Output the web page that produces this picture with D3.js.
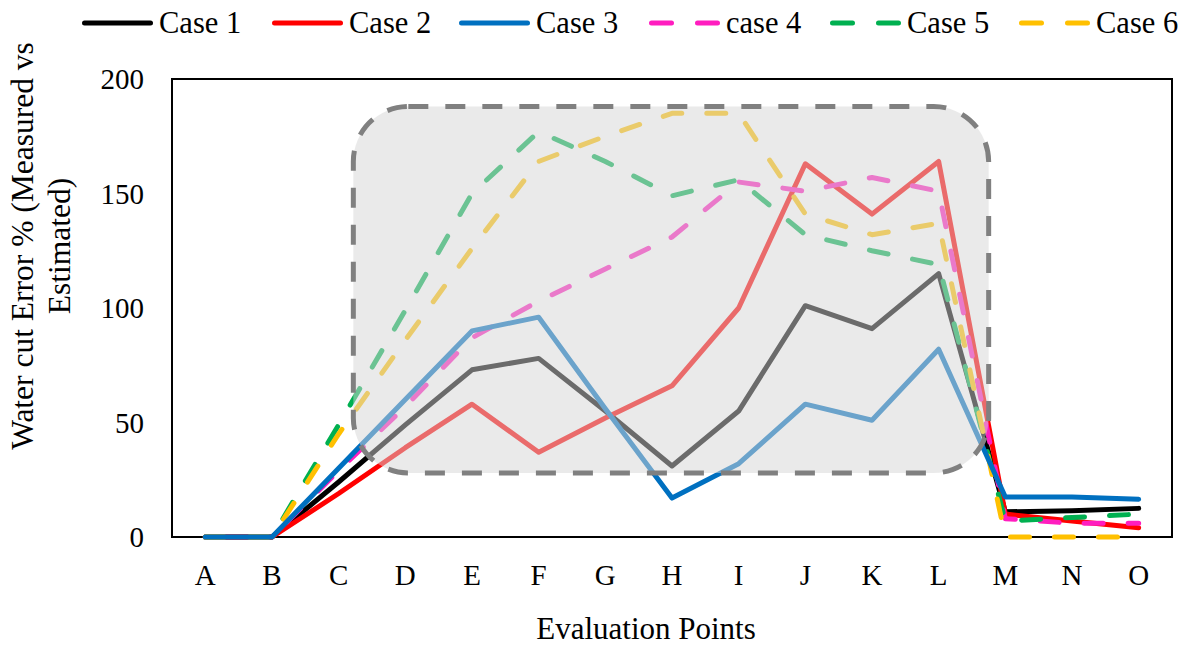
<!DOCTYPE html>
<html>
<head>
<meta charset="utf-8">
<script src="https://cdn.jsdelivr.net/npm/d3@7"></script>
<style>
  html, body { margin: 0; padding: 0; background: #fff; }
  text { font-family: "Liberation Serif", "Times New Roman", serif; fill: #000; }
</style>
</head>
<body>
<svg id="chart" width="1191" height="647"></svg>
<script>
const categories = ["A","B","C","D","E","F","G","H","I","J","K","L","M","N","O"];
const case1 = [0,0,24,49,73,78,55,31,55,101,91,115,11,11.5,12.5];
const case2 = [0,0,19,39,58,37,52,66,100,163,141,164,10,7,4];
const case3 = [0,0,30,60,90,96,56,17,32,58,51,82,17.5,17.5,16.5];
const case4 = [0,0,29,57,87,103,117,131,155,151,157,151,8,6,6];
const case5 = [0,0,49,99,150,177,164,149,156,132,125,119,7,8.5,10];
const case6 = [0,0,45,86,126,164,175,185,185,141,132,137,0,0,0];
const seriesNames = ["Case 1","Case 2","Case 3","case 4","Case 5","Case 6"];
const seriesColors = ["#000000","#ff0000","#0070c0","#ff1dbf","#00b050","#ffc000"];
const seriesDashed = [false,false,false,true,true,true];
const yTicks = [0,50,100,150,200];
const highlightFrom = ["D","L"];   // category span of the shaded box
const highlightRange = [28,188];   // value span of the shaded box

const seriesData = [case1,case2,case3,case4,case5,case6];
const drawOrder = [0,1,3,4,5,2];

const svg = d3.select("#chart");
const L = 172, R = 1172, T = 79, B = 537;

const x = d3.scaleBand().domain(categories).range([L, R]);
const y = d3.scaleLinear().domain([0, 200]).range([B, T]);
const cx = c => x(c) + x.bandwidth() / 2;

// frame
svg.append("rect").attr("x", L).attr("y", T).attr("width", R - L).attr("height", B - T)
  .attr("fill", "none").attr("stroke", "#000").attr("stroke-width", 2);

// y tick labels
svg.append("g").selectAll("text").data(yTicks).join("text")
  .attr("x", 144).attr("y", d => y(d)).attr("dy", "0.35em")
  .attr("text-anchor", "end").attr("font-size", 29).text(d => d);

// x tick labels
svg.append("g").selectAll("text").data(categories).join("text")
  .attr("x", d => cx(d)).attr("y", 585)
  .attr("text-anchor", "middle").attr("font-size", 29).text(d => d);

// axis titles
svg.append("text").attr("x", 646).attr("y", 639).attr("text-anchor", "middle")
  .attr("font-size", 31).text("Evaluation Points");
const yt = svg.append("text").attr("transform", "translate(0,246) rotate(-90)")
  .attr("text-anchor", "middle").attr("font-size", 31.5);
yt.append("tspan").attr("x", 0).attr("y", 33).text("Water cut Error % (Measured vs");
yt.append("tspan").attr("x", 0).attr("y", 70).text("Estimated)");

// lines
const line = d3.line().x((d, i) => cx(categories[i])).y(d => y(d));
const dash = "19,25";
drawOrder.forEach(k => {
  svg.append("path").datum(seriesData[k]).attr("d", line)
    .attr("fill", "none").attr("stroke", seriesColors[k]).attr("stroke-width", 5)
    .attr("stroke-linejoin", "round")
    .attr("stroke-linecap", "round")
    .attr("stroke-dasharray", seriesDashed[k] ? dash : null);
});

// shaded rounded box overlay
const bx0 = cx(highlightFrom[0]) - 52, bx1 = cx(highlightFrom[1]) + 50;
svg.append("rect")
  .attr("x", bx0).attr("y", y(highlightRange[1]))
  .attr("width", bx1 - bx0).attr("height", y(highlightRange[0]) - y(highlightRange[1]))
  .attr("rx", 55).attr("ry", 55)
  .attr("fill", "rgb(214,214,214)").attr("fill-opacity", 0.5)
  .attr("stroke", "#808080").attr("stroke-width", 5).attr("stroke-dasharray", "20,17");

// legend
const legendX = [82, 272, 459, 649, 830, 1019];
const lg = svg.append("g");
seriesNames.forEach((n, k) => {
  lg.append("line").attr("x1", legendX[k] + 2.5).attr("x2", legendX[k] + 68.5)
    .attr("y1", 23).attr("y2", 23)
    .attr("stroke", seriesColors[k]).attr("stroke-width", 5).attr("stroke-linecap", "round")
    .attr("stroke-dasharray", seriesDashed[k] ? "20,26" : null);
  lg.append("text").attr("x", legendX[k] + 77).attr("y", 33).attr("font-size", 30.5).text(n);
});
</script>
</body>
</html>
